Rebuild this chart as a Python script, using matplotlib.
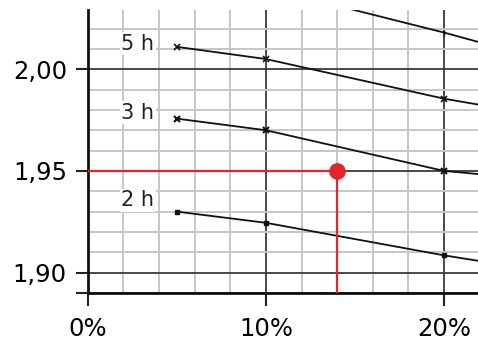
import matplotlib
matplotlib.use('Agg')
import matplotlib.pyplot as plt
from matplotlib.ticker import MultipleLocator, FixedLocator

# curves (x in %, y value); last point lies beyond the visible range
x_pts = [5, 10, 20, 25]
top_x = [10, 20, 25]
top_y = [2.040, 2.018, 2.006]
h5_y = [2.011, 2.005, 1.9855, 1.978]
h3_y = [1.9757, 1.970, 1.950, 1.946]
h2_y = [1.930, 1.9245, 1.9085, 1.9015]

labels = ['5 h', '3 h', '2 h']
label_x = 2.8
label_y = [2.0125, 1.9785, 1.9355]

# red read-off point
pt_x = 14
pt_y = 1.95

y_ticks = [1.89, 1.90, 1.95, 2.00]
y_ticklabels = ['', '1,90', '1,95', '2,00']
x_ticks = [0, 10, 20]
x_ticklabels = ['0%', '10%', '20%']

red = '#e3242b'

fig = plt.figure(figsize=(4.78, 3.47), dpi=100)
ax = fig.add_axes([0.1835, 0.1556, 0.8165, 0.815])

ax.set_xlim(0, 21.9)
ax.set_ylim(1.89, 2.029)

ax.xaxis.set_major_locator(FixedLocator(x_ticks))
ax.xaxis.set_minor_locator(MultipleLocator(2))
ax.yaxis.set_major_locator(FixedLocator(y_ticks))
ax.yaxis.set_minor_locator(MultipleLocator(0.01))
ax.set_xticklabels(x_ticklabels)
ax.set_yticklabels(y_ticklabels)

ax.grid(which='minor', color='#c6c6c6', lw=1.4, zorder=0)
ax.grid(which='major', color='#3a3a3a', lw=1.3, zorder=1)
ax.set_axisbelow(True)

ax.tick_params(which='major', direction='out', length=9, width=1.5,
               labelsize=17.5, color='#222222', pad=8)
ax.tick_params(axis='y', which='major', pad=6)
ax.tick_params(which='minor', length=0)

for side in ['top', 'right']:
    ax.spines[side].set_visible(False)
for side in ['left', 'bottom']:
    ax.spines[side].set_linewidth(2)
    ax.spines[side].set_color('#111111')

ax.plot(top_x, top_y, color='#111111', lw=1.3, marker='|', ms=5,
        markevery=[1], zorder=3)
ax.plot(x_pts, h5_y, color='#111111', lw=1.3, marker='x', ms=5,
        mew=1.2, markevery=[0, 1, 2], zorder=3)
ax.plot(x_pts, h3_y, color='#111111', lw=1.3, marker='x', ms=5,
        mew=1.5, markevery=[0, 1, 2], zorder=3)
ax.plot(x_pts, h2_y, color='#111111', lw=1.3, marker='s', ms=2.5,
        markevery=[0, 1, 2], zorder=3)

for lab, ly in zip(labels, label_y):
    ax.text(label_x, ly, lab, fontsize=15, ha='center', va='center',
            color='#222222', zorder=4,
            bbox=dict(facecolor='white', edgecolor='none', pad=1))

ax.plot([0, pt_x], [pt_y, pt_y], color=red, lw=1.6, zorder=5)
ax.plot([pt_x, pt_x], [1.89, pt_y], color=red, lw=1.6, zorder=5)
ax.plot([pt_x], [pt_y], 'o', color=red, ms=11, zorder=6)

fig.savefig('out.png', dpi=100)
